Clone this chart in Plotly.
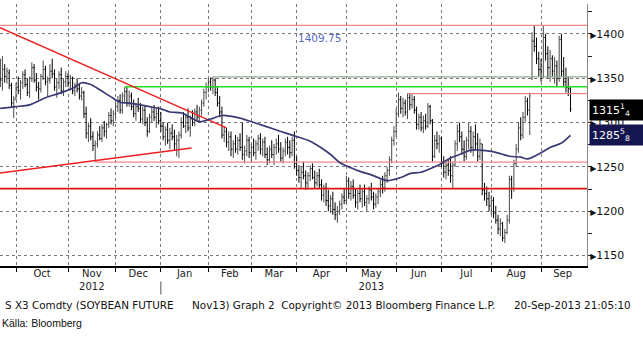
import plotly.graph_objects as go
from fractions import Fraction

# ---------------- data ----------------
opens = [1355,1348,1360,1352,1356,1342,1322,
 1328,1340,1336,1345,1354,1343,1334,1350,1362,1348,1340,1338,1352,1360,1346,1348,1358,1355,1340,1345,1354,1336,1346,
 1352,1345,1350,1336,1342,1338,1330,1334,1310,1288,1296,1284,1274,1276,1286,1282,1294,1290,1298,1308,1302,
 1310,1318,1325,1314,1330,1335,1322,1330,1318,1310,1318,1316,1304,1314,1300,1290,1306,1312,1306,1310,
 1302,1296,1284,1292,1280,1288,1284,1276,1280,1286,1300,1296,1306,1294,1304,1300,1312,1306,1314,1322,1334,
 1340,1346,1340,1348,1334,1322,1312,1286,1290,1278,1284,1270,1276,1270,1280,1272,1264,1268,1280,
 1266,1272,1266,1276,1282,1270,1278,1264,1258,1270,1264,1272,1276,1270,1260,1268,1278,1272,1266,1280,
 1254,1246,1238,1244,1240,1232,1240,1248,1238,1232,1240,1230,1218,1226,1212,1206,1214,1202,1196,1200,1208,1216,
 1212,1234,1220,1228,1218,1210,1220,1214,1222,1210,1214,1224,1216,1208,1216,1222,1230,1226,1240,1246,1258,1280,
 1290,1310,1326,1316,1322,1312,1328,1320,1326,1314,1298,1306,1294,1302,1296,1318,1302,1262,1280,1276,
 1282,1256,1244,1252,1246,1240,1252,1276,1290,1284,1270,1262,1280,1290,1272,1284,1276,1262,1276,1224,1220,1214,
 1206,1212,1198,1190,1180,1186,1170,1176,1190,1236,1226,1254,1270,1294,1286,1306,1324,1314,1350,1392,1386,1372,
 1360,1352,1396,1378,1362,1372,1358,1364,1350,1394,1358,1346,1340,1338]
highs = [1372,1375,1366,1362,1360,1345,1330,
 1345,1352,1348,1358,1360,1350,1352,1368,1366,1356,1346,1355,1370,1364,1352,1366,1372,1360,1350,1358,1362,1350,1358,
 1356,1354,1352,1345,1350,1344,1340,1336,1318,1300,1305,1290,1280,1290,1296,1298,1302,1300,1312,1316,1314,
 1322,1330,1332,1334,1340,1340,1336,1334,1326,1322,1328,1322,1318,1320,1306,1310,1318,1320,1316,1318,
 1312,1300,1296,1300,1294,1298,1292,1286,1290,1306,1312,1310,1316,1308,1314,1316,1320,1318,1326,1338,1345,
 1350,1351,1351.5,1350,1340,1330,1318,1296,1294,1290,1290,1280,1286,1284,1288,1300,1274,1286,1284,
 1276,1282,1280,1286,1288,1282,1284,1272,1274,1280,1276,1282,1286,1278,1272,1282,1284,1280,1284,1290,
 1262,1252,1250,1256,1246,1244,1252,1254,1246,1244,1248,1236,1230,1232,1224,1218,1222,1210,1206,1212,1220,1226,
 1240,1238,1234,1236,1226,1224,1230,1226,1230,1218,1228,1232,1222,1220,1226,1236,1240,1244,1250,1262,1284,1296,
 1316,1334,1330,1328,1326,1333,1333,1332,1330,1318,1310,1312,1308,1310,1322,1320,1304,1286,1290,1286,
 1284,1262,1256,1258,1262,1256,1280,1298,1300,1290,1280,1284,1300,1296,1290,1298,1288,1282,1276,1232,1228,1222,
 1218,1216,1206,1196,1192,1188,1180,1196,1240,1240,1258,1276,1300,1306,1312,1330,1328,1334,1402,1409.75,1396,1380,
 1372,1409.5,1400,1386,1382,1376,1374,1370,1398,1400,1374,1362,1352,1340]
lows = [1340,1336,1345,1344,1338,1318,1305,
 1325,1332,1326,1338,1340,1330,1328,1346,1345,1335,1326,1334,1348,1342,1330,1344,1350,1336,1328,1338,1332,1330,1340,
 1340,1336,1332,1330,1334,1326,1325,1305,1282,1278,1280,1268,1256,1272,1280,1278,1284,1282,1294,1298,1296,
 1304,1312,1310,1310,1322,1318,1318,1314,1306,1302,1312,1300,1298,1296,1284,1288,1300,1302,1294,1298,
 1290,1280,1274,1276,1270,1280,1268,1262,1260,1282,1294,1288,1290,1284,1296,1296,1302,1300,1308,1318,1326,
 1334,1336,1332,1330,1318,1306,1282,1278,1272,1268,1262,1260,1266,1264,1268,1258,1254,1262,1260,
 1256,1262,1258,1268,1264,1262,1260,1252,1254,1260,1252,1264,1266,1256,1254,1262,1264,1260,1262,1248,
 1240,1232,1226,1236,1224,1226,1234,1236,1226,1228,1226,1212,1210,1206,1200,1198,1196,1190,1187,1196,1202,1208,
 1208,1214,1212,1214,1204,1202,1210,1204,1206,1200,1208,1212,1202,1204,1208,1216,1220,1222,1232,1240,1254,1274,
 1284,1306,1310,1306,1308,1304,1314,1316,1310,1292,1292,1290,1288,1292,1294,1298,1256,1260,1270,1266,
 1250,1238,1236,1240,1232,1226,1250,1268,1278,1264,1256,1258,1270,1266,1262,1270,1256,1258,1218,1212,1206,1200,
 1196,1192,1186,1174,1172,1166,1164,1174,1186,1214,1222,1250,1266,1280,1282,1300,1308,1286,1348,1380,1366,1352,
 1346,1350,1370,1350,1346,1352,1344,1340,1346,1352,1340,1334,1330,1312]
closes = [1348,1360,1352,1358,1342,1322,1326,
 1340,1336,1345,1354,1343,1334,1350,1362,1348,1340,1338,1352,1360,1346,1348,1358,1355,1340,1345,1354,1336,1346,1352,
 1345,1350,1336,1342,1338,1330,1334,1310,1288,1296,1284,1274,1276,1286,1282,1294,1290,1298,1308,1302,1310,
 1318,1325,1314,1330,1335,1322,1330,1318,1310,1318,1316,1304,1314,1300,1290,1306,1312,1306,1310,1302,
 1296,1284,1292,1280,1288,1284,1276,1280,1286,1300,1296,1306,1294,1304,1300,1312,1306,1314,1322,1334,1340,
 1346,1340,1348,1334,1322,1312,1286,1290,1278,1284,1270,1276,1270,1280,1272,1264,1268,1280,1266,
 1272,1266,1276,1282,1270,1278,1264,1258,1270,1264,1272,1276,1270,1260,1268,1278,1272,1266,1280,1254,
 1246,1238,1244,1240,1232,1240,1248,1238,1232,1240,1230,1218,1226,1212,1206,1214,1202,1196,1200,1208,1216,1212,
 1234,1220,1228,1218,1210,1220,1214,1222,1210,1214,1224,1216,1208,1216,1222,1230,1226,1240,1246,1258,1280,1290,
 1310,1326,1316,1322,1312,1328,1320,1326,1314,1298,1306,1294,1302,1296,1318,1302,1262,1280,1276,1282,
 1256,1244,1252,1246,1240,1252,1276,1290,1284,1270,1262,1280,1290,1272,1284,1276,1262,1276,1224,1220,1214,1206,
 1212,1198,1190,1180,1186,1170,1176,1190,1236,1226,1254,1270,1294,1286,1306,1324,1314,1330,1392,1386,1372,1360,
 1352,1396,1378,1362,1372,1358,1364,1350,1394,1358,1346,1340,1338,1315.25]

# moving average (read at selected trading-day positions)
ma_idx = [0,7,13,20,26,33,36,40,44,49,53,57,62,66,71,75,80,84,88,93,98,106,111,117,124,130,137,141,146,150,
          155,159,164,168,171,177,181,186,190,194,199,203,208,212,217,221,225,230,233,239,243,248,252]
ma_val = [1316,1318,1320,1328,1333,1340,1345,1343,1337,1329,1323,1322,1320,1318,1315.5,1312,1311,1306,1301,1304,
          1308,1305,1301,1296,1290,1285,1279,1273,1264,1255,1249,1245,1241,1237,1234.5,1238,1242.5,1244,1248,1252.5,
          1260,1264,1269,1269,1267.5,1265,1262,1261,1259,1266,1272,1277,1285.625]

# month axis (trading-day index of first session of each month)
month_labels = ["Oct", "Nov<br>2012", "Dec", "Jan", "Feb", "Mar", "Apr", "May<br>2013", "Jun", "Jul", "Aug", "Sep"]
month_start = [7, 30, 51, 71, 92, 111, 131, 153, 175, 195, 217, 239]
axis_end = 259.3
year_break = 71

y_ticks = [1150, 1200, 1250, 1300, 1350, 1400]

# support / resistance levels and trend lines
level_vals = [1409.75, 1351.5, 1340.5, 1332.75, 1255.5, 1225.5]
level_from = [-0.07, 94, 55, 180, 42, -0.07]
down_trend_x = [-0.07, 100]
down_trend_y = [1407, 1294]
up_trend_x = [-0.07, 84.6]
up_trend_y = [1243.2, 1271.4]

footer_1 = "S X3 Comdty (SOYBEAN FUTURE"
footer_2 = "Nov13) Graph 2\u00a0\u00a0Copyright\u00a9 2013 Bloomberg Finance L.P."
footer_3 = "20-Sep-2013 21:05:10"
source = "Källa: Bloomberg"

# ---------------- figure ----------------
x_idx = list(range(len(closes)))
FONT = "DejaVu Sans"

fig = go.Figure()

level_styles = [("#f08686", 1.3), ("#93a893", 1.3), ("#22dd22", 1.6),
                ("#f08686", 1.3), ("#f08686", 1.3), ("#dd1010", 1.6)]
for v, x0, (col, w) in zip(level_vals, level_from, level_styles):
    fig.add_trace(go.Scatter(x=[x0, axis_end], y=[v, v], mode="lines",
                             line=dict(color=col, width=w), hoverinfo="skip"))

fig.add_trace(go.Scatter(x=down_trend_x, y=down_trend_y, mode="lines",
                         line=dict(color="#ee2020", width=1.5), hoverinfo="skip"))
fig.add_trace(go.Scatter(x=up_trend_x, y=up_trend_y, mode="lines",
                         line=dict(color="#ee2020", width=1.5), hoverinfo="skip"))

fig.add_trace(go.Ohlc(x=x_idx, open=opens, high=highs, low=lows, close=closes,
                      increasing=dict(line=dict(color="#4a4a4a", width=1)),
                      decreasing=dict(line=dict(color="#000000", width=1)),
                      tickwidth=0.45, hoverinfo="skip"))

fig.add_trace(go.Scatter(x=ma_idx, y=ma_val, mode="lines",
                         line=dict(color="#3a3a74", width=1.7, shape="spline", smoothing=0.8),
                         hoverinfo="skip"))

# dummy trace to host the month-label axis
mids = [(a + b) / 2 for a, b in zip(month_start, month_start[1:] + [axis_end - 1.3])]
fig.add_trace(go.Scatter(x=mids, y=[y_ticks[0]] * len(mids), xaxis="x2", mode="markers",
                         marker=dict(opacity=0), hoverinfo="skip"))

def frac_text(v):
    ip = int(v)
    f = Fraction(v - ip).limit_denominator(8)
    if f == 0:
        return f"{ip}"
    return f"{ip}<sup>{f.numerator}</sup><sub>{f.denominator}</sub>"

tri = '<span style="font-size:8px">\u25B6</span>'
fig.update_layout(
    width=643, height=340,
    margin=dict(l=0, r=56, t=4, b=73.5, autoexpand=False),
    paper_bgcolor="white", plot_bgcolor="white",
    showlegend=False,
    font=dict(family=FONT, color="#222222", size=10),
    xaxis=dict(range=[-0.07, axis_end], tickvals=month_start, showticklabels=False,
               showgrid=True, gridcolor="#7a7a7a", griddash="dot", gridwidth=1,
               ticks="outside", ticklen=4, tickcolor="#000000",
               showline=True, linecolor="#000000", linewidth=2,
               zeroline=False, rangeslider=dict(visible=False), fixedrange=True),
    xaxis2=dict(range=[-0.07, axis_end], overlaying="x", side="bottom", anchor="y",
                tickvals=mids, ticktext=month_labels, ticks="", showgrid=False,
                showline=False, zeroline=False, tickfont=dict(family=FONT, size=10, color="#222222")),
    yaxis=dict(side="right", range=[1138.2, 1433.8], tickvals=y_ticks,
               ticktext=[f"{tri}{v}" for v in y_ticks],
               tickfont=dict(family=FONT, size=11, color="#111111"),
               showgrid=True, gridcolor="#7a7a7a", griddash="dot", gridwidth=1,
               ticks="", showline=True, linecolor="#8a8a8a", linewidth=1, zeroline=False,
               minor=dict(dtick=25, tick0=1125, ticks="outside", ticklen=4, tickcolor="#222222",
                          showgrid=False),
               fixedrange=True),
)

fig.add_shape(type="line", xref="x", yref="paper", x0=year_break, x1=year_break,
              y0=-0.059, y1=-0.109, line=dict(color="#555555", width=1))

fig.add_annotation(x=141.3, y=1396, xref="x", yref="y", text=f"{max(highs):.2f}",
                   showarrow=False, font=dict(family=FONT, size=10.5, color="#5a6ac6"))

fig.add_annotation(x=1, y=closes[-1], xref="paper", yref="y", text=frac_text(closes[-1]),
                   showarrow=False, xanchor="left", yanchor="middle", xshift=2, yshift=-1,
                   bgcolor="#000000", width=50, align="left", borderpad=2,
                   font=dict(family=FONT, size=11, color="white"))
fig.add_annotation(x=1, y=ma_val[-1], xref="paper", yref="y", text=frac_text(ma_val[-1]),
                   showarrow=False, xanchor="left", yanchor="middle", xshift=2, yshift=0,
                   bgcolor="#151550", width=50, align="left", borderpad=2,
                   font=dict(family=FONT, size=11, color="white"))

fy = (266.5 - 305.7) / 262.5
fig.add_annotation(x=3 / 587, y=fy, xref="paper", yref="paper", text=footer_1, showarrow=False,
                   xanchor="left", yanchor="middle", font=dict(family=FONT, size=10.4, color="#111111"))
fig.add_annotation(x=190 / 587, y=fy, xref="paper", yref="paper", text=footer_2, showarrow=False,
                   xanchor="left", yanchor="middle", font=dict(family=FONT, size=10.4, color="#111111"))
fig.add_annotation(x=633 / 587, y=fy, xref="paper", yref="paper", text=footer_3, showarrow=False,
                   xanchor="right", yanchor="middle", font=dict(family=FONT, size=10.4, color="#111111"))
fig.add_annotation(x=0, y=(266.5 - 324) / 262.5, xref="paper", yref="paper", text=source,
                   showarrow=False, xanchor="left", yanchor="middle",
                   font=dict(family="Liberation Sans Narrow, Liberation Sans", size=10.5, color="#111111"))

fig.write_html("out.html")
